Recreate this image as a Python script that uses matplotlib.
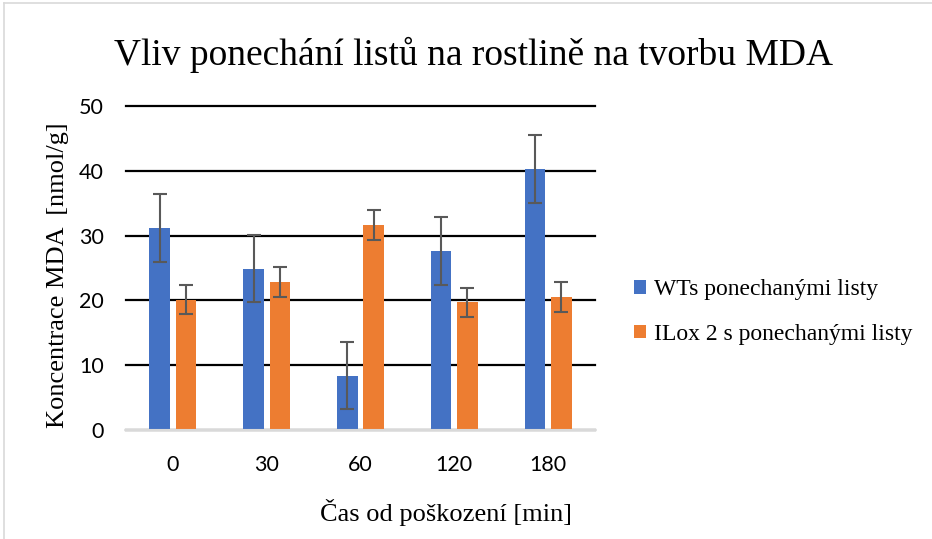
import matplotlib.pyplot as plt
import numpy as np
from matplotlib.lines import Line2D

categories = ["0", "30", "60", "120", "180"]
wt_values = [31.2, 24.9, 8.4, 27.6, 40.3]
wt_errors = [5.2, 5.2, 5.2, 5.2, 5.3]
ilox_values = [20.1, 22.8, 31.6, 19.7, 20.5]
ilox_errors = [2.2, 2.3, 2.3, 2.2, 2.3]
series_names = ["WTs ponechanými listy", "ILox 2 s ponechanými listy"]

SERIF = "Liberation Serif"
SANS = "Lato"
BLUE = "#4472C4"
ORANGE = "#ED7D31"

fig = plt.figure(figsize=(9.32, 5.39), dpi=100)
ax = fig.add_axes([126 / 932, 1 - 430 / 539, 469 / 932, 324 / 539])

x = np.arange(len(categories))
width = 0.22
offset = 0.14
err_kw = dict(ecolor="#595959", elinewidth=1.5, capsize=5, capthick=1.5)
ax.bar(x - offset, wt_values, width, yerr=wt_errors, color=BLUE,
       label=series_names[0], error_kw=err_kw, zorder=3)
ax.bar(x + offset, ilox_values, width, yerr=ilox_errors, color=ORANGE,
       label=series_names[1], error_kw=err_kw, zorder=3)

ax.set_xlim(-0.5, len(categories) - 0.5)
ax.set_ylim(0, 50)
ax.set_yticks(range(0, 51, 10))
ax.set_xticks(x)
ax.set_xticklabels(categories)
ax.yaxis.grid(True, color="black", linewidth=1.6, zorder=0)
ax.set_axisbelow(True)
for gl in ax.get_ygridlines():
    gl.set_clip_on(False)
for side in ["top", "right", "left"]:
    ax.spines[side].set_visible(False)
ax.spines["bottom"].set_color("#d9d9d9")
ax.spines["bottom"].set_linewidth(1.5)
ax.spines["bottom"].set_zorder(4)
ax.tick_params(length=0, labelsize=15.5)
ax.tick_params(axis="x", pad=18)
ax.tick_params(axis="y", pad=16)
for lbl in ax.get_xticklabels() + ax.get_yticklabels():
    lbl.set_fontfamily(SANS)

fig.text(473 / 932, 1 - 55 / 539, "Vliv ponechání listů na rostlině na tvorbu MDA",
         ha="center", va="center", fontsize=27, family=SERIF)
fig.text(58 / 932, 1 - 275 / 539, "Koncentrace MDA  [nmol/g]", rotation=90,
         ha="center", va="center", fontsize=19, family=SERIF)
fig.text(446 / 932, 1 - 512 / 539, "Čas od poškození [min]",
         ha="center", va="center", fontsize=19, family=SERIF)

fig.legend(loc="center left", bbox_to_anchor=(613 / 932, 1 - 312 / 539),
           frameon=False, prop={"family": SERIF, "size": 17},
           handlelength=0.5, handleheight=0.5, handletextpad=0.35,
           labelspacing=1.0)

# light chart border on top and left
fig.add_artist(Line2D([4 / 932, 1], [1 - 3 / 539, 1 - 3 / 539], color="#d9d9d9", lw=1.2))
fig.add_artist(Line2D([4 / 932, 4 / 932], [0, 1 - 3 / 539], color="#d9d9d9", lw=1.2))

fig.savefig("out.png", dpi=100)
